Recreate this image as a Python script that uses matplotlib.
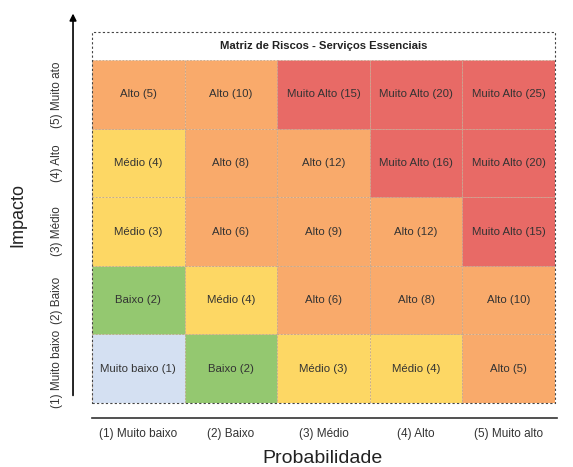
import matplotlib.pyplot as plt
from matplotlib.patches import Rectangle

plt.rcParams['font.family'] = ['Liberation Sans', 'DejaVu Sans']

# Eixos
probabilidade = ['(1) Muito baixo', '(2) Baixo', '(3) Médio', '(4) Alto', '(5) Muito alto']
impacto = ['(1) Muito baixo', '(2) Baixo', '(3) Médio', '(4) Alto', '(5) Muito ato']

# Linhas de baixo (impacto 1) para cima (impacto 5)
scores = [
    [1, 2, 3, 4, 5],
    [2, 4, 6, 8, 10],
    [3, 6, 9, 12, 15],
    [4, 8, 12, 16, 20],
    [5, 10, 15, 20, 25],
]
levels = [
    ['Muito baixo', 'Baixo', 'Médio', 'Médio', 'Alto'],
    ['Baixo', 'Médio', 'Alto', 'Alto', 'Alto'],
    ['Médio', 'Alto', 'Alto', 'Alto', 'Muito Alto'],
    ['Médio', 'Alto', 'Alto', 'Muito Alto', 'Muito Alto'],
    ['Alto', 'Alto', 'Muito Alto', 'Muito Alto', 'Muito Alto'],
]
level_colors = {
    'Muito baixo': '#d4e0f2',
    'Baixo': '#94c870',
    'Médio': '#fdd764',
    'Alto': '#f9aa6b',
    'Muito Alto': '#e86a66',
}
title = 'Matriz de Riscos - Serviços Essenciais'

fig = plt.figure(figsize=(5.73, 4.67), dpi=100)
ax = fig.add_axes([92 / 573, 1 - 403 / 467, 463 / 573, 371 / 467])
ax.set_xlim(0, 5)
ax.set_ylim(0, 5.41)
ax.axis('off')

# celulas
for r in range(5):
    for c in range(5):
        lvl = levels[r][c]
        ax.add_patch(Rectangle((c, r), 1, 1, facecolor=level_colors[lvl],
                               edgecolor='#c0a890', lw=0.6, ls=(0, (2, 2))))
        ax.text(c + 0.5, r + 0.5, f'{lvl} ({scores[r][c]})', ha='center', va='center',
                fontsize=8.2, color='#333333')

# caixa do titulo
ax.add_patch(Rectangle((0, 5), 5, 0.41, facecolor='white', edgecolor='none'))
ax.text(2.5, 5.205, title, ha='center', va='center', fontsize=8.1, fontweight='bold', color='#222222')
# borda externa tracejada
ax.add_patch(Rectangle((0, 0), 5, 5.41, facecolor='none', edgecolor='#444444',
                       lw=0.8, ls=(0, (2, 2)), clip_on=False))

# eixo y com seta
ax.annotate('', xy=(-0.205, 5.72), xytext=(-0.205, 0.07), xycoords='data',
            arrowprops=dict(arrowstyle='-|>', color='black', lw=1.2, mutation_scale=10),
            annotation_clip=False)
# eixo x
ax.plot([0, 5.02], [-0.219, -0.219], color='#333333', lw=1.2, clip_on=False)

for i, lab in enumerate(probabilidade):
    ax.text(i + 0.5, -0.45, lab, ha='center', va='center', fontsize=8.5, color='#333333')
for i, lab in enumerate(impacto):
    ax.text(-0.378, i + 0.5, lab, ha='center', va='center', rotation=90, fontsize=8.5, color='#333333')

ax.text(2.49, -0.816, 'Probabilidade', ha='center', va='center', fontsize=14, color='#222222')
ax.text(-0.8, 2.74, 'Impacto', ha='center', va='center', rotation=90, fontsize=13, color='#222222')

fig.savefig('out.png', dpi=100, facecolor='white')
